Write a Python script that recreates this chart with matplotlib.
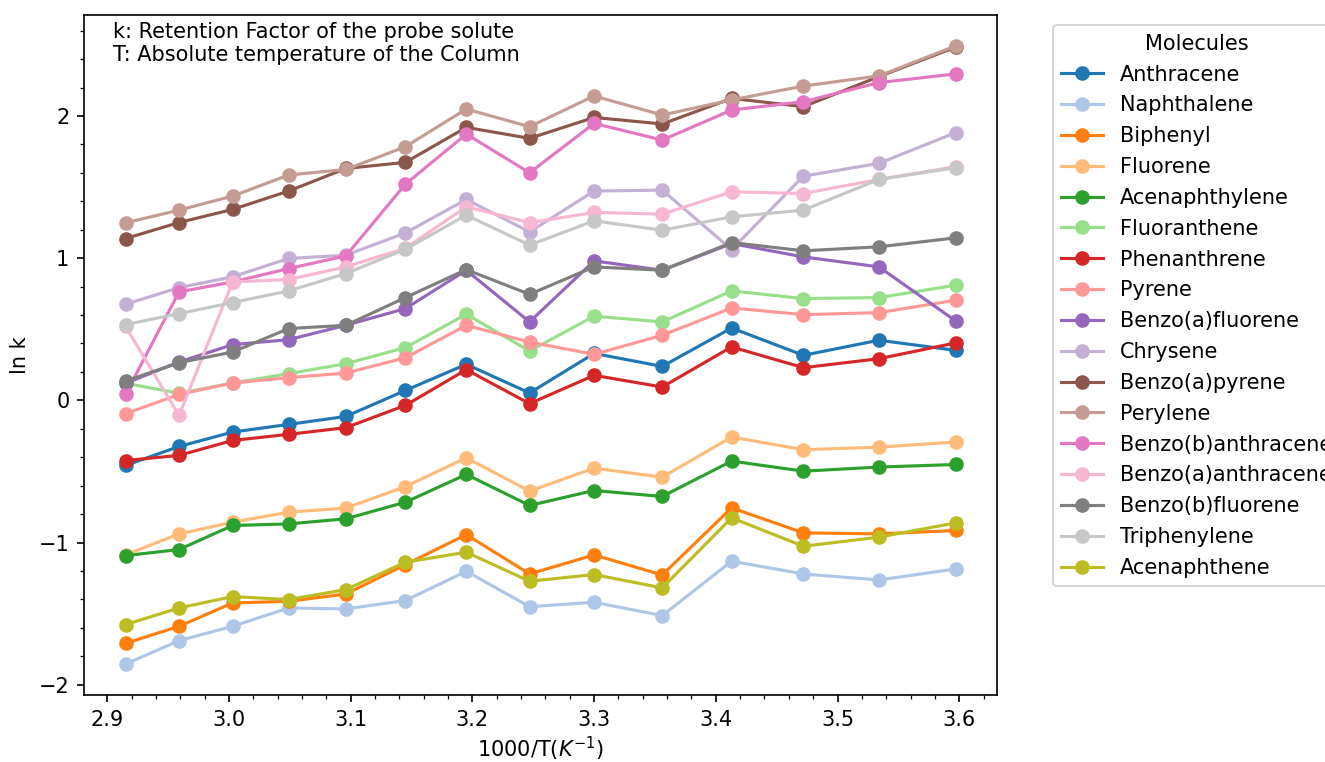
import matplotlib
matplotlib.use("Agg")
import matplotlib.pyplot as plt

# 1000/T values (K^-1)
x_vals = [2.915, 2.959, 3.003, 3.049, 3.096, 3.145, 3.195, 3.247, 3.300, 3.356, 3.413, 3.472, 3.534, 3.597]

molecules = ["Anthracene", "Naphthalene", "Biphenyl", "Fluorene", "Acenaphthylene",
             "Fluoranthene", "Phenanthrene", "Pyrene", "Benzo(a)fluorene", "Chrysene",
             "Benzo(a)pyrene", "Perylene", "Benzo(b)anthracene", "Benzo(a)anthracene",
             "Benzo(b)fluorene", "Triphenylene", "Acenaphthene"]

anthracene = [-0.458, -0.324, -0.223, -0.169, -0.113, 0.070, 0.254, 0.052, 0.330, 0.239, 0.509, 0.317, 0.423, 0.352]
naphthalene = [-1.855, -1.690, -1.589, -1.460, -1.467, -1.408, -1.202, -1.451, -1.420, -1.514, -1.131, -1.221, -1.263, -1.186]
biphenyl = [-1.709, -1.589, -1.425, -1.413, -1.362, -1.155, -0.944, -1.221, -1.087, -1.228, -0.756, -0.932, -0.939, -0.915]
fluorene = [-1.087, -0.939, -0.857, -0.786, -0.758, -0.606, -0.404, -0.638, -0.477, -0.540, -0.258, -0.347, -0.329, -0.293]
acenaphthylene = [-1.092, -1.049, -0.880, -0.869, -0.833, -0.716, -0.521, -0.739, -0.634, -0.676, -0.427, -0.498, -0.469, -0.451]
fluoranthene = [0.120, 0.050, 0.122, 0.188, 0.258, 0.371, 0.606, 0.347, 0.592, 0.552, 0.770, 0.716, 0.723, 0.810]
phenanthrene = [-0.423, -0.387, -0.282, -0.239, -0.192, -0.035, 0.216, -0.023, 0.176, 0.094, 0.376, 0.230, 0.293, 0.404]
pyrene = [-0.094, 0.042, 0.122, 0.160, 0.192, 0.300, 0.528, 0.410, 0.324, 0.458, 0.650, 0.603, 0.617, 0.704]
benzo_a_fluorene = [0.120, 0.270, 0.392, 0.427, 0.528, 0.646, 0.915, 0.552, 0.981, 0.915, 1.103, 1.009, 0.939, 0.559]
chrysene = [0.676, 0.793, 0.869, 0.998, 1.021, 1.178, 1.413, 1.185, 1.472, 1.479, 1.061, 1.577, 1.667, 1.883]
benzo_a_pyrene = [1.138, 1.251, 1.343, 1.472, 1.631, 1.674, 1.920, 1.843, 1.990, 1.944, 2.124, 2.066, 2.277, 2.484]
perylene = [1.249, 1.338, 1.437, 1.585, 1.624, 1.784, 2.049, 1.925, 2.141, 2.007, 2.113, 2.211, 2.282, 2.493]
benzo_b_anthracene = [0.042, 0.763, 0.833, 0.927, 1.016, 1.521, 1.873, 1.601, 1.948, 1.831, 2.042, 2.101, 2.235, 2.296]
benzo_a_anthracene = [0.520, -0.106, 0.833, 0.850, 0.939, 1.070, 1.362, 1.249, 1.322, 1.310, 1.467, 1.455, 1.554, 1.643]
benzo_b_fluorene = [0.136, 0.265, 0.340, 0.505, 0.528, 0.723, 0.920, 0.746, 0.939, 0.915, 1.110, 1.052, 1.080, 1.143]
triphenylene = [0.533, 0.610, 0.688, 0.770, 0.892, 1.063, 1.303, 1.092, 1.263, 1.197, 1.291, 1.338, 1.554, 1.636]
acenaphthene = [-1.577, -1.460, -1.380, -1.401, -1.331, -1.138, -1.068, -1.272, -1.225, -1.319, -0.826, -1.026, -0.962, -0.862]

series = [anthracene, naphthalene, biphenyl, fluorene, acenaphthylene, fluoranthene,
          phenanthrene, pyrene, benzo_a_fluorene, chrysene, benzo_a_pyrene, perylene,
          benzo_b_anthracene, benzo_a_anthracene, benzo_b_fluorene, triphenylene, acenaphthene]

fig = plt.figure(figsize=(1325 / 150, 762 / 150), dpi=150)
ax = fig.add_axes([0.0634, 0.0879, 0.6891, 0.8924])

cmap = plt.get_cmap("tab20")
for i, (name, vals) in enumerate(zip(molecules, series)):
    ax.plot(x_vals, vals, marker="o", color=cmap(i), label=name)

ax.minorticks_on()
ax.set_xlabel("1000/T($K^{-1}$)", labelpad=2.5)
ax.set_ylabel("ln k")
ax.text(0.032, 0.99, "k: Retention Factor of the probe solute\nT: Absolute temperature of the Column",
        transform=ax.transAxes, va="top", ha="left", fontsize=10)
ax.legend(title="Molecules", bbox_to_anchor=(1.05, 1), loc="upper left", labelspacing=0.52)

fig.savefig("out.png", dpi=150)
